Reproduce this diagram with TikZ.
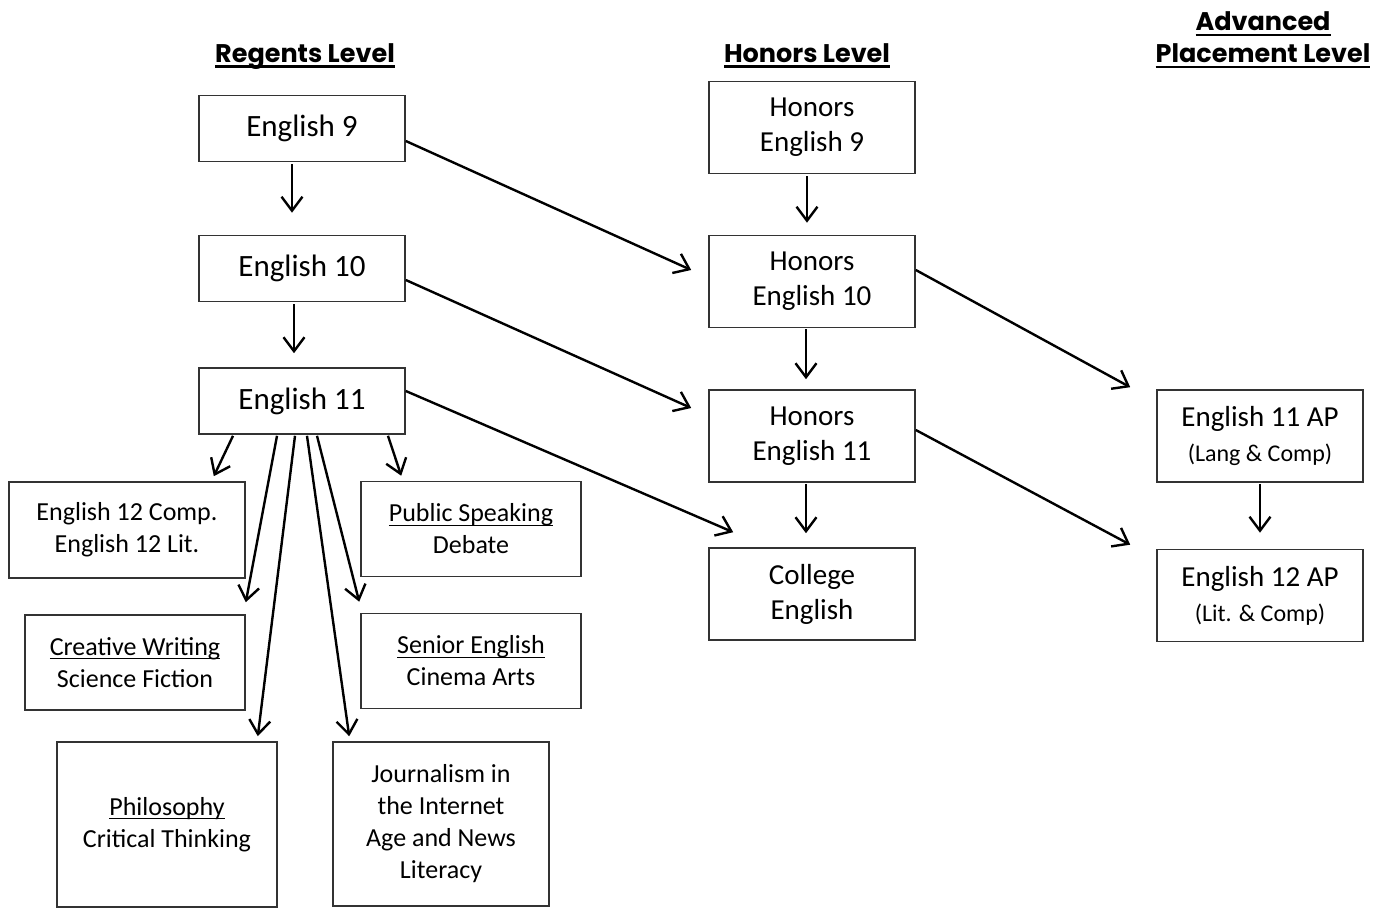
\documentclass[tikz,border=0pt]{standalone}
\usepackage{fontspec}
\setmainfont{Carlito}
\newfontfamily\hdrfont{Poppins}
\usetikzlibrary{arrows.meta,calc}

\tikzset{
  course/.style={draw=black!80, line width=1.6pt, align=center, inner sep=0pt, minimum width=206pt},
  big/.style={font=\fontsize{31}{37}\selectfont},
  mid/.style={font=\fontsize{29}{35}\selectfont},
  small/.style={font=\fontsize{26}{32}\selectfont},
  hdr/.style={align=center, font=\hdrfont\bfseries\fontsize{25.5}{32}\selectfont},
  arr/.style={line width=2.4pt, -{Straight Barb[length=14pt,width=21pt,line width=2.4pt]}}
}
\newcommand{\thinul}[1]{\setbox0\hbox{#1}\rlap{\rule[-4pt]{\wd0}{1.3pt}}\box0}
\newcommand{\thickul}[1]{\setbox0\hbox{#1}\rlap{\rule[-6pt]{\wd0}{2.8pt}}\box0}

\begin{document}
\begin{tikzpicture}[x=1pt,y=-1pt]
\useasboundingbox (0,0) rectangle (1378,908);

% headings
\node[hdr, anchor=base] (hreg) at (305,62) {\thickul{Regents Level}};
\node[hdr, anchor=base] (hhon) at (807,62) {\thickul{Honors Level}};
\node[hdr] (hap) at (1263,40) {\thickul{Advanced}\\\thickul{Placement Level}};

% regents column
\node[course, big, minimum height=66pt] (e9) at (302,128.5) {English 9};
\node[course, big, minimum height=66pt] (e10) at (302,268.5) {English 10};
\node[course, big, minimum height=66pt] (e11) at (302,401) {English 11};

\node[course, small, minimum width=236pt, minimum height=96pt] (e12) at (127,530) {English 12 Comp.\\English 12 Lit.};
\node[course, small, minimum width=220pt, minimum height=95pt] (pub) at (471,529) {\thinul{Public Speaking}\\Debate};
\node[course, small, minimum width=220pt, minimum height=95pt] (cw) at (135,662.5) {\thinul{Creative Writing}\\Science Fiction};
\node[course, small, minimum width=220pt, minimum height=95pt] (sen) at (471,661) {\thinul{Senior English}\\Cinema Arts};
\node[course, small, minimum width=220pt, minimum height=165pt] (phil) at (167,824.5) {\thinul{Philosophy}\\Critical Thinking};
\node[course, small, minimum width=216pt, minimum height=164pt] (jour) at (441,824) {Journalism in\\the Internet\\Age and News\\Literacy};

% honors column
\node[course, mid, minimum height=92pt] (he9) at (812,127.5) {Honors\\English 9};
\node[course, mid, minimum height=92pt] (he10) at (812,281.5) {Honors\\English 10};
\node[course, mid, minimum height=92pt] (he11) at (812,436) {Honors\\English 11};
\node[course, mid, minimum height=92pt] (col) at (812,594) {College\\English};

% AP column
\node[course, mid, minimum height=92pt] (ap11) at (1260,436) {English 11 AP\\{\fontsize{24}{30}\selectfont(Lang \& Comp)}};
\node[course, mid, minimum height=92pt] (ap12) at (1260,595.5) {English 12 AP\\{\fontsize{24}{30}\selectfont(Lit. \& Comp)}};

% arrows
\draw[arr] ($(e9.south)+(-10,2)$) -- ($(e10.north)+(-10,-22)$);
\draw[arr] ($(e10.south)+(-8,2)$) -- ($(e11.north)+(-8,-14)$);
\draw[arr] ($(e9.east)+(0,12.5)$) -- ($(he10.west)+(-17,-11.5)$);
\draw[arr] ($(e10.east)+(0,11.5)$) -- ($(he11.west)+(-17,-28)$);
\draw[arr] ($(e11.east)+(0,-10)$) -- ($(col.north west)+(25,-15)$);

\draw[arr] ($(e11.south)+(-69,1)$) -- ($(e12.north east)+(-32,-5)$);
\draw[arr] ($(e11.south)+(-25,1)$) -- ($(cw.north east)+(0,-12)$);
\draw[arr] ($(e11.south)+(-7,1)$) -- ($(phil.north east)+(-20,-5)$);
\draw[arr] ($(e11.south)+(5,1)$) -- ($(jour.north west)+(17,-5)$);
\draw[arr] ($(e11.south)+(15,1)$) -- ($(sen.north west)+(-1,-11)$);
\draw[arr] ($(e11.south)+(86,1)$) -- ($(pub.north west)+(41,-5)$);

\draw[arr] ($(he9.south)+(-5,2)$) -- ($(he10.north)+(-5,-12)$);
\draw[arr] ($(he10.south)+(-6,1)$) -- ($(he11.north)+(-6,-10)$);
\draw[arr] ($(he11.south)+(-6,1)$) -- ($(col.north)+(-6,-14)$);
\draw[arr] ($(he10.east)+(0,-11.5)$) -- ($(ap11.north west)+(-26,-2)$);
\draw[arr] ($(he11.east)+(0,-6)$) -- ($(ap12.north west)+(-26,-4)$);
\draw[arr] ($(ap11.south)+(0,1)$) -- ($(ap12.north)+(0,-16)$);
\end{tikzpicture}
\end{document}
